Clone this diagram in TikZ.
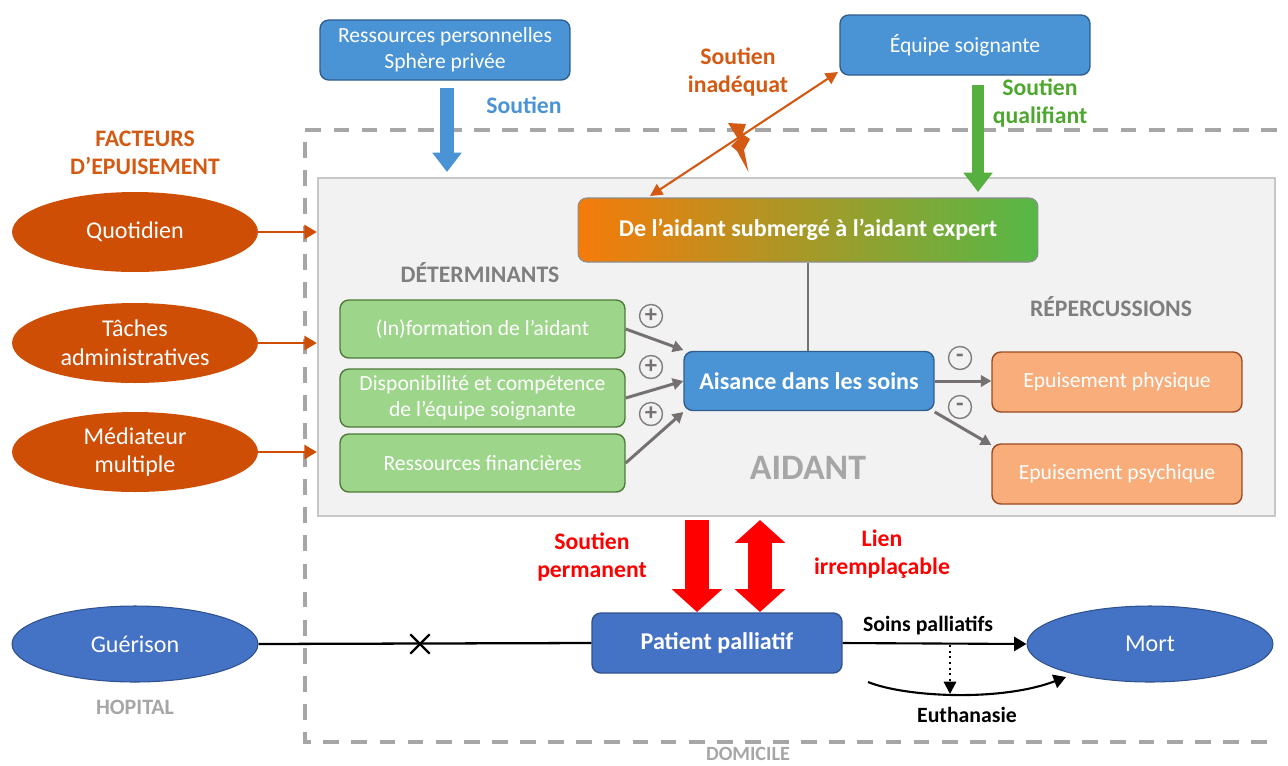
\documentclass[tikz,border=0pt]{standalone}
\usepackage{fontspec}
\setmainfont{Carlito}
\usetikzlibrary{arrows.meta,shapes.geometric,shapes.misc}
\definecolor{bxblue}{HTML}{4A94D6}
\definecolor{bxblueb}{HTML}{2E5E8E}
\definecolor{ptblue}{HTML}{4472C4}
\definecolor{ptblueb}{HTML}{2F528F}
\definecolor{ellor}{HTML}{CF4E06}
\definecolor{txor}{HTML}{D45A14}
\definecolor{grfill}{HTML}{9DD68A}
\definecolor{grbord}{HTML}{4E7A3A}
\definecolor{orfill}{HTML}{F8AD7B}
\definecolor{orbord}{HTML}{9A4A22}
\definecolor{dgray}{HTML}{A6A6A6}
\definecolor{agray}{HTML}{767171}
\definecolor{tgray}{HTML}{7F7F7F}
\definecolor{grarrow}{HTML}{55B03F}
\definecolor{grtext}{HTML}{4EA72E}
\definecolor{gradL}{HTML}{F57B0A}
\definecolor{gradR}{HTML}{55B847}
\definecolor{myred}{HTML}{FF0000}
\tikzset{
  box/.style={rounded corners=5pt, minimum width=5cm, minimum height=1.2cm, align=center, text=white, line width=0.8pt, font=\fontsize{12.3}{14.7}\selectfont},
  bluebox/.style={box, fill=bxblue, draw=bxblueb},
  greenbox/.style={box, fill=grfill, draw=grbord, minimum width=5.7cm, minimum height=1.16cm},
  orbox/.style={box, fill=orfill, draw=orbord},
  ell/.style={ellipse, minimum width=4.92cm, minimum height=1.6cm, inner sep=0pt, text=white, align=center, font=\fontsize{13.7}{16.4}\selectfont},
  orell/.style={ell, fill=ellor},
  blell/.style={ell, fill=ptblue, draw=ptblueb, line width=0.6pt, minimum height=1.52cm},
  sign/.style={circle, draw=tgray, line width=0.8pt, minimum size=0.46cm, inner sep=0pt, text=agray, font=\bfseries\fontsize{14}{14}\selectfont},
  lbl/.style={align=center, font=\bfseries\fontsize{13.5}{16}\selectfont},
  boldbox/.style={font=\bfseries\fontsize{13.7}{16}\selectfont},
  orarrow/.style={draw=ellor, line width=1.2pt, -{Triangle[length=7pt,width=8pt]}},
  grayarrow/.style={draw=agray, line width=1.7pt, -{Triangle[length=6pt,width=6.5pt]}},
  blkarrow/.style={draw=black, line width=1.2pt, -{Triangle[length=7pt,width=8pt]}}
}
\begin{document}
\begin{tikzpicture}[x=0.02cm,y=-0.02cm]
\useasboundingbox (0,0) rectangle (1288,765);
% DOMICILE dashed frame
\draw[dgray, line width=2.3pt, dash pattern=on 9pt off 7pt] (1277,130) -- (305,130) -- (305,742) -- (1278,742);
\node[text=dgray, inner sep=0pt, font=\bfseries\fontsize{11.5}{12}\selectfont] (dom) at (748,754) {DOMICILE};
% AIDANT area
\node[fill=black!5, draw=black!22, line width=1.5pt, minimum width=19.14cm, minimum height=6.76cm, inner sep=0pt] (aid) at (796.5,347) {};
\node[text=dgray, font=\bfseries\fontsize{20.4}{22}\selectfont] (aidt) at (808,468) {AIDANT};

% top boxes
\node[bluebox] (res) at (445,50) {Ressources personnelles\\Sphère privée};
\node[bluebox] (equ) at (965,45) {Équipe soignante};
\node[lbl, text=bxblue] (sout) at (524,105) {Soutien};
\node[lbl, text=txor] (inad) at (738,72) {Soutien\\inadéquat};
\node[lbl, text=grtext] (qual) at (1040,103) {Soutien\\qualifiant};

% gradient box
\node[rounded corners=5pt, left color=gradL, right color=gradR, draw=black!45, line width=0.6pt, minimum width=9.2cm, minimum height=1.28cm, text=white, boldbox] (grad) at (808,230) {De l’aidant submergé à l’aidant expert};

% arrows top
\draw[draw=bxblue, line width=8pt, shorten <=4.5pt, shorten >=3.4pt, -{Triangle[length=11pt,width=16pt]}] (447,80) -- (447,178);
\draw[draw=grarrow, line width=7pt, shorten <=5.7pt, shorten >=3.4pt, -{Triangle[length=11pt,width=16pt]}] (978,75) -- (978,198);
\coordinate (ia) at (650,196);
\coordinate (ib) at (838,72);
\draw[draw=txor, line width=1.2pt, {Triangle[length=7pt,width=7pt]}-{Triangle[length=7pt,width=7pt]}] (ia) -- (ib);
\fill[txor] (728,123) -- (746,124) -- (742.5,134) -- (750,139) -- (744,150) -- (748.5,172) -- (737,151) -- (731,146) -- (738,139) -- cycle;

% left factors
\node[lbl, text=txor] (fact) at (145,153) {FACTEURS\\D’EPUISEMENT};
\node[orell] (quo) at (135,232) {Quotidien};
\node[orell] (tac) at (135,343) {Tâches\\administratives};
\node[orell] (med) at (135,452) {Médiateur\\multiple};
\draw[orarrow] (quo.east) -- (quo.east -| aid.west);
\draw[orarrow] (tac.east) -- (tac.east -| aid.west);
\draw[orarrow] (med.east) -- (med.east -| aid.west);

% determinants
\node[lbl, text=tgray] (det) at (480,273) {DÉTERMINANTS};
\node[lbl, text=tgray] (rep) at (1111,307) {RÉPERCUSSIONS};
\node[greenbox] (g1) at (482.5,329) {(In)formation de l’aidant};
\node[greenbox] (g2) at (482.5,398) {Disponibilité et compétence\\de l’équipe soignante};
\node[greenbox] (g3) at (482.5,463) {Ressources financières};
\node[bluebox, minimum height=1.18cm, boldbox] (ais) at (809,381) {Aisance dans les soins};
\node[orbox] (ep1) at (1117,382) {Epuisement physique};
\node[orbox] (ep2) at (1117,474) {Epuisement psychique};
\draw[agray, line width=1.5pt] (grad.south) -- (ais.north -| grad.south);
\draw[grayarrow] (g1.east) -- ([yshift=0.62cm]ais.west);
\draw[grayarrow] (g2.east) -- (ais.west);
\draw[grayarrow] (g3.east) -- ([yshift=-0.62cm]ais.west);
\draw[grayarrow] (ais.east) -- (ep1.west |- ais.east);
\draw[grayarrow] ([yshift=-0.62cm]ais.east) -- ([yshift=0.58cm]ep2.west);
\node[sign] (p1) at (651,316) {+};
\node[sign] (p2) at (651,367) {+};
\node[sign] (p3) at (651,414) {+};
\node[sign] (m1) at (960,358) {-};
\node[sign] (m2) at (960,407) {-};

% patient
\node[box, fill=ptblue, draw=ptblueb, boldbox] (pat) at (717,643) {Patient palliatif};
\draw[draw=myred, line width=14pt, -{Triangle[length=13pt,width=28pt]}] (697,520) -- (697,612);
\draw[draw=myred, line width=14pt, {Triangle[length=13pt,width=28pt]}-{Triangle[length=13pt,width=28pt]}] (760,520) -- (760,612);
\node[lbl, text=myred] (sp) at (592,557) {Soutien\\permanent};
\node[lbl, text=myred] (li) at (882,554) {Lien\\irremplaçable};

\node[blell] (gue) at (135,644) {Guérison};
\node[text=dgray, font=\bfseries\fontsize{12.5}{13}\selectfont] (hop) at (135,707) {HOPITAL};
\node[blell] (mort) at (1150,644) {Mort};
\draw[black, line width=1.3pt] (gue.east) -- (pat.west);
\node[cross out, draw=black, line width=1.3pt, minimum size=0.34cm, inner sep=0pt] (x) at (420,644) {};
\draw[blkarrow] (pat.east) -- (mort.west);
\node[font=\bfseries\fontsize{12.4}{14}\selectfont] (soins) at (928,626) {Soins palliatifs};
\coordinate (da) at (950,645);
\coordinate (db) at (950,694);
\draw[black, line width=1.2pt, dotted, -{Triangle[length=7pt,width=7pt]}] (da) -- (db);
\coordinate (ca) at (868,682);
\coordinate (cb) at (1066,677);
\draw[blkarrow] (ca) .. controls (905,697) and (1000,702) .. (cb);
\node[font=\bfseries\fontsize{12.4}{14}\selectfont] (eut) at (967,715) {Euthanasie};
\end{tikzpicture}
\end{document}
